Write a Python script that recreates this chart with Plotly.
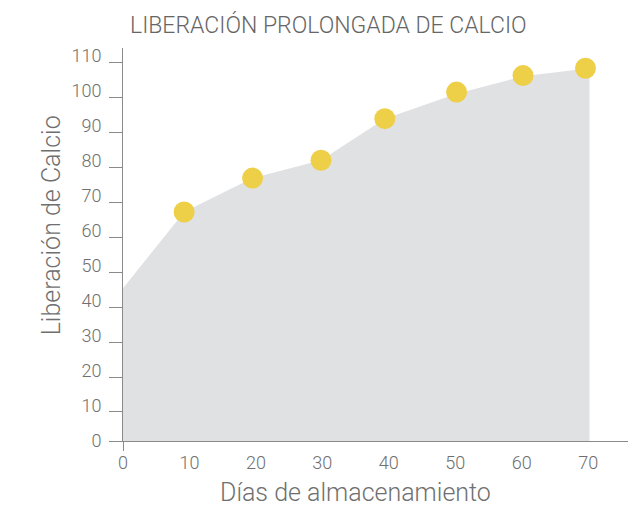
import plotly.graph_objects as go

# --- data ---
dias = [9.2, 19.5, 29.8, 39.4, 50.2, 60.2, 69.6]
liberacion = [67.2, 76.9, 82.0, 93.9, 101.5, 106.2, 108.3]

area_dias = [0, 9.2, 19.5, 29.8, 39.4, 50.2, 60.2, 70.2]
area_liberacion = [45.4, 67.2, 76.9, 82.0, 93.9, 101.0, 106.0, 108.3]

x_tickvals = [0, 10, 20, 30, 40, 50, 60, 70]
x_ticktext = ["0", "10", "20", "30", "40", "50", "60", "70"]
y_tickvals = [1.7, 10, 20, 30, 40, 50, 60, 70, 80, 90, 100, 110]
y_labelvals = [1.7, 11.9, 21.9, 31.9, 41.9, 51.9, 61.9, 71.9, 81.9, 91.9, 101.9, 111.9]
y_ticktext = ["0", "10", "20", "30", "40", "50", "60", "70", "80", "90", "100", "110"]

titulo = "LIBERACIÓN PROLONGADA DE CALCIO"
titulo_x = "Días de almacenamiento"
titulo_y = "Liberación de Calcio"

FONT = "Roboto, sans-serif"
AXIS = "#8a8a8a"
TXT = "#6f6f6f"

X_RANGE = [0, 76.0]
Y_RANGE = [1.7, 114.1]

L, R, T, B = 122.7, 2, 48.3, 66.3
PW = 630 - L - R
PH = 507 - T - B
BOTTOM = 507 - B

fig = go.Figure()
fig.add_trace(go.Scatter(
    x=area_dias, y=area_liberacion, mode="lines", line=dict(width=0),
    fill="tozeroy", fillcolor="#e0e1e3", hoverinfo="skip", showlegend=False))
fig.add_trace(go.Scatter(
    x=dias, y=liberacion, mode="markers",
    marker=dict(size=21, color="#eecf48", line=dict(width=0)),
    showlegend=False))

fig.update_layout(
    width=630, height=507,
    margin=dict(l=L, r=R, t=T, b=B),
    paper_bgcolor="white", plot_bgcolor="white",
    font=dict(family=FONT, color=TXT),
    xaxis=dict(range=X_RANGE, tickvals=x_tickvals, ticktext=x_ticktext,
               ticks="outside", ticklen=5, tickcolor="rgba(0,0,0,0)",
               showline=True, linecolor=AXIS, linewidth=1.3,
               showgrid=False, zeroline=False, automargin=False,
               tickfont=dict(size=18, color=TXT, family=FONT, weight=300)),
    xaxis2=dict(range=X_RANGE, overlaying="x", anchor="y", side="bottom",
                tickvals=[0], ticks="outside", ticklen=9, tickcolor=AXIS,
                tickwidth=1.3, showticklabels=False, showline=False,
                showgrid=False, zeroline=False, automargin=False),
    yaxis=dict(range=Y_RANGE, tickvals=y_tickvals, ticks="outside",
               ticklen=13, tickcolor=AXIS, tickwidth=1.3,
               showticklabels=False, showline=True, linecolor=AXIS,
               linewidth=1.3, showgrid=False, zeroline=False,
               automargin=False),
    yaxis2=dict(range=Y_RANGE, overlaying="y", anchor="x", side="left",
                tickvals=y_labelvals, ticktext=y_ticktext, ticks="outside",
                ticklen=13, tickcolor="rgba(0,0,0,0)", showline=False,
                showgrid=False, zeroline=False, ticklabelstandoff=4,
                automargin=False,
                tickfont=dict(size=18, color=TXT, family=FONT, weight=300)),
    showlegend=False,
)
# invisible trace to activate the overlay axes
fig.add_trace(go.Scatter(x=[None], y=[None], xaxis="x2", yaxis="y2",
                         showlegend=False, hoverinfo="skip"))

fig.add_annotation(text=titulo, xref="paper", yref="paper",
                   x=(328 - L) / PW, y=(BOTTOM - 25) / PH,
                   xanchor="center", yanchor="middle", showarrow=False,
                   font=dict(size=23, color="#666666", family=FONT, weight=300))
fig.add_annotation(text=titulo_x, xref="paper", yref="paper",
                   x=(355 - L) / PW, y=(BOTTOM - 492) / PH,
                   xanchor="center", yanchor="middle", showarrow=False,
                   font=dict(size=25, color=TXT, family=FONT, weight=300))
fig.add_annotation(text=titulo_y, xref="paper", yref="paper",
                   x=(52 - L) / PW, y=(BOTTOM - 225) / PH,
                   xanchor="center", yanchor="middle", showarrow=False,
                   textangle=-90,
                   font=dict(size=25, color=TXT, family=FONT, weight=300))

fig.write_html("out.html",
               config={"displayModeBar": False},
               post_script="document.body.style.margin='0';"
                           "document.body.style.padding='0';")
